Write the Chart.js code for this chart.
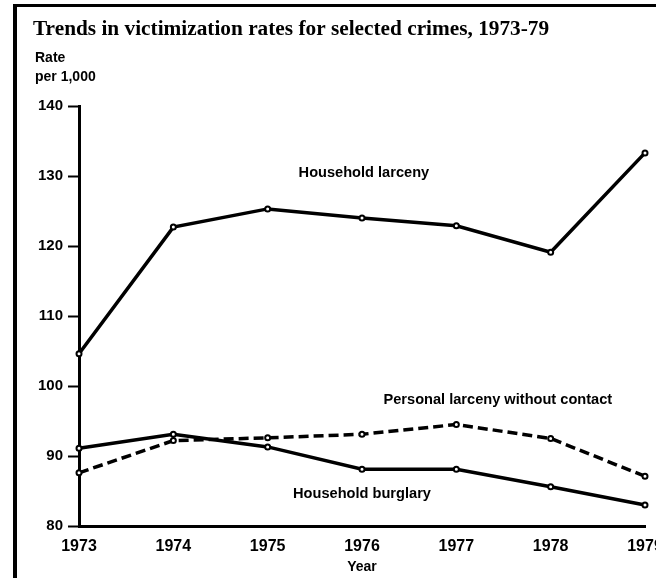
<!DOCTYPE html>
<html>
<head>
<meta charset="utf-8">
<script src="https://cdn.jsdelivr.net/npm/chart.js@4/dist/chart.umd.min.js"></script>
<style>
  html, body { margin: 0; padding: 0; background: #fff; }
  #myChart { display: block; }
</style>
</head>
<body>
<canvas id="myChart" width="656" height="578"></canvas>
<script>
const anos = ['1973', '1974', '1975', '1976', '1977', '1978', '1979'];
const householdLarceny = [104.6, 122.7, 125.3, 124.0, 122.9, 119.1, 133.3];
const householdBurglary = [91.1, 93.1, 91.3, 88.1, 88.1, 85.6, 83.0];
const personalLarceny = [87.6, 92.2, 92.6, 93.1, 94.5, 92.5, 87.1];
const yTicks = [80, 90, 100, 110, 120, 130, 140];

const titulo = 'Trends in victimization rates for selected crimes, 1973-79';
const eixoY = ['Rate', 'per 1,000'];

// rótulos das linhas: texto, posição em índice de ano e valor
const rotulos = [
    { text: 'Household larceny', x: 3.02, y: 130.4 },
    { text: 'Personal larceny without contact', x: 4.44, y: 98.0 },
    { text: 'Household burglary', x: 3.0, y: 84.6 }
];

const textos = {
    id: 'textos',
    beforeDraw(chart) {
        const c = chart.ctx;
        c.save();
        c.fillStyle = '#fff';
        c.fillRect(0, 0, chart.width, chart.height);
        // moldura
        c.fillStyle = '#000';
        c.fillRect(13, 4, 4, chart.height - 4);
        c.fillRect(13, 4, chart.width - 13, 3);
        c.restore();
    },
    afterDraw(chart) {
        const c = chart.ctx;
        const x = chart.scales.x, y = chart.scales.y;
        c.save();
        c.fillStyle = '#000';
        c.textBaseline = 'alphabetic';
        c.textAlign = 'left';
        c.font = 'bold 21.3px "Liberation Serif", serif';
        c.fillText(titulo, 33, 35);
        c.font = 'bold 14px "Liberation Sans", Arial, sans-serif';
        c.textBaseline = 'middle';
        c.fillText(eixoY[0], 35, 58);
        c.fillText(eixoY[1], 35, 77);
        c.textAlign = 'center';
        c.font = 'bold 14.6px "Liberation Sans", Arial, sans-serif';
        rotulos.forEach(r => {
            c.fillText(r.text, x.getPixelForValue(r.x), y.getPixelForValue(r.y));
        });
        c.restore();
    }
};

const ctx = document.getElementById('myChart');
const myChart = new Chart(ctx, {
    type: 'line',
    data: {
        labels: anos,
        datasets: [{
            label: 'Household larceny',
            data: householdLarceny,
            borderColor: '#000',
            backgroundColor: '#fff',
            borderWidth: 3.5,
            pointRadius: 2.5,
            pointBorderWidth: 2,
            tension: 0
        }, {
            label: 'Household burglary',
            data: householdBurglary,
            borderColor: '#000',
            backgroundColor: '#fff',
            borderWidth: 3.5,
            pointRadius: 2.5,
            pointBorderWidth: 2,
            tension: 0
        }, {
            label: 'Personal larceny without contact',
            data: personalLarceny,
            borderColor: '#000',
            backgroundColor: '#fff',
            borderWidth: 3.5,
            borderDash: [10, 5],
            pointRadius: 2.5,
            pointBorderWidth: 2,
            tension: 0
        }]
    },
    options: {
        responsive: false,
        animation: false,
        layout: {
            padding: { top: 106, right: 11, left: 0, bottom: 0 }
        },
        plugins: {
            legend: { display: false },
            tooltip: { enabled: false }
        },
        scales: {
            x: {
                offset: false,
                grid: { drawOnChartArea: false, drawTicks: false },
                border: { color: '#000', width: 3 },
                ticks: {
                    color: '#000',
                    font: { family: '"Liberation Sans", Arial, sans-serif', size: 16, weight: 'bold' },
                    padding: 11,
                    maxRotation: 0,
                    autoSkip: false
                },
                title: {
                    display: true,
                    text: 'Year',
                    color: '#000',
                    font: { family: '"Liberation Sans", Arial, sans-serif', size: 14, weight: 'bold' },
                    padding: { top: 0, bottom: 2 }
                },
                afterFit(s) {
                    s.height = 52;
                    s.paddingLeft = 0;
                    s.paddingRight = 0;
                }
            },
            y: {
                min: 80,
                max: 140,
                grid: { drawOnChartArea: false, drawTicks: true, tickLength: 11, tickWidth: 2, tickColor: '#000' },
                border: { color: '#000', width: 3 },
                afterBuildTicks(s) {
                    s.ticks = yTicks.map(v => ({ value: v }));
                },
                ticks: {
                    color: '#000',
                    font: { family: '"Liberation Sans", Arial, sans-serif', size: 15, weight: 'bold' },
                    padding: 5
                },
                afterFit(s) {
                    s.width = 79;
                    s.paddingTop = 0;
                    s.paddingBottom = 0;
                }
            }
        }
    },
    plugins: [textos]
});
</script>
</body>
</html>
